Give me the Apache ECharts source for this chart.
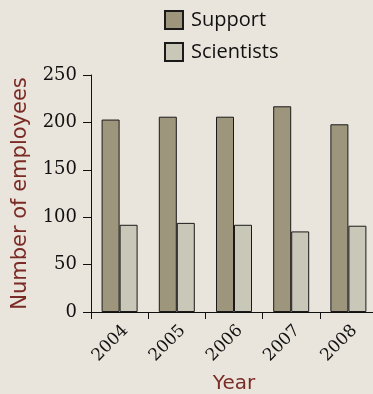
<!DOCTYPE html>
<html><head><meta charset="utf-8">
<script src="https://cdn.jsdelivr.net/npm/echarts@6/dist/echarts.min.js"></script>
<style>html,body{margin:0;padding:0;background:#e9e5dc;}#c{width:373px;height:394px;}</style>
</head><body><div id="c"></div>
<script>
const categories = ['2004','2005','2006','2007','2008'];
const support = [203, 206, 206, 217, 198];
const scientists = [92, 94, 92, 85, 91];
const yTicks = [0, 50, 100, 150, 200, 250];

const chart = echarts.init(document.getElementById('c'));
chart.setOption({
  backgroundColor: '#e9e5dc',
  animation: false,
  legend: {
    orient: 'vertical', left: 164, top: 10, padding: 0,
    itemWidth: 18, itemHeight: 18, itemGap: 12,
    icon: 'rect',
    textStyle: {fontFamily: 'Open Sans', fontSize: 20, color: '#111', padding: [0,0,0,3]},
    data: ['Support', 'Scientists']
  },
  grid: {left: 91, top: 75, width: 286, bottom: 82, containLabel: false, outerBoundsMode: 'none'},
  xAxis: {
    type: 'category', data: categories,
    name: 'Year', nameLocation: 'middle', nameGap: 62,
    nameTextStyle: {fontFamily: 'DejaVu Sans', fontSize: 20, color: '#7b2b25'},
    axisLine: {lineStyle: {color: '#111', width: 1}},
    axisTick: {show: true, length: 7, lineStyle: {color: '#111'}},
    axisLabel: {rotate: 45, verticalAlign: 'top', fontFamily: 'DejaVu Serif', fontSize: 17, color: '#111', margin: 10}
  },
  yAxis: {
    type: 'value', min: yTicks[0], max: yTicks[yTicks.length-1], interval: 50,
    name: 'Number of employees', nameLocation: 'middle', nameGap: 60,
    nameTextStyle: {fontFamily: 'DejaVu Sans', fontSize: 21, color: '#7b2b25'},
    axisLine: {show: true, lineStyle: {color: '#111', width: 1}},
    axisTick: {show: true, length: 8, lineStyle: {color: '#111'}},
    splitLine: {show: false},
    axisLabel: {fontFamily: 'DejaVu Serif', fontSize: 18, color: '#111', margin: 14}
  },
  series: [
    {name: 'Support', type: 'bar', data: support, barWidth: 18, barGap: '0%',
     itemStyle: {color: '#9e967c', borderColor: '#1a1a1a', borderWidth: 1}},
    {name: 'Scientists', type: 'bar', data: scientists, barWidth: 18,
     itemStyle: {color: '#c9c7b8', borderColor: '#1a1a1a', borderWidth: 1}}
  ]
});
</script></body></html>
